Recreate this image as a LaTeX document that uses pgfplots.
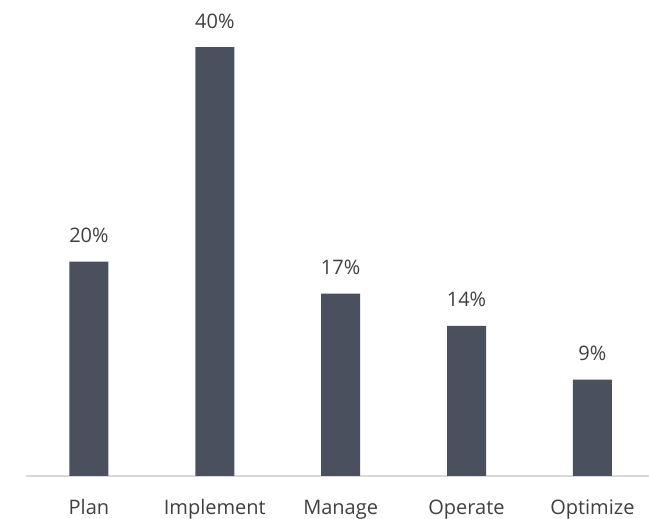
\documentclass[border=0pt]{standalone}
\usepackage{fontspec}
\setmainfont{Open Sans}
\usepackage{pgfplots}
\pgfplotsset{compat=1.18}
\definecolor{barcol}{HTML}{4A505E}
\definecolor{txtcol}{HTML}{404040}
\definecolor{axcol}{HTML}{D9D9D9}

\begin{document}
\begin{tikzpicture}
  \path[use as bounding box] (-26pt,-43pt) rectangle (623pt,476pt);
  \begin{axis}[
      at={(0,0)}, anchor=south west,
      scale only axis,
      width=623pt, height=476pt,
      ybar, bar width=39pt,
      xmin=-0.5, xmax=4.45,
      ymin=0, ymax=44.4,
      enlarge x limits=false, enlarge y limits=false,
      axis y line=none,
      axis x line=bottom,
      x axis line style={-, draw=axcol, line width=1.3pt},
      xtick={0,1,2,3,4},
      xticklabels={Plan, Implement, Manage, Operate, Optimize},
      major tick length=0pt,
      xticklabel style={anchor=base, yshift=-39pt, text=txtcol,
        font=\fontsize{20}{24}\selectfont},
      nodes near coords={\pgfmathprintnumber{\pgfplotspointmeta}\%},
      nodes near coords style={anchor=base, yshift=19pt, text=txtcol,
        font=\fontsize{20}{24}\selectfont},
      /pgf/number format/assume math mode=true,
      clip=false,
    ]
    \addplot[draw=none, fill=barcol] coordinates {
      (0,20) (1,40) (2,17) (3,14) (4,9)
    };
  \end{axis}
\end{tikzpicture}
\end{document}
